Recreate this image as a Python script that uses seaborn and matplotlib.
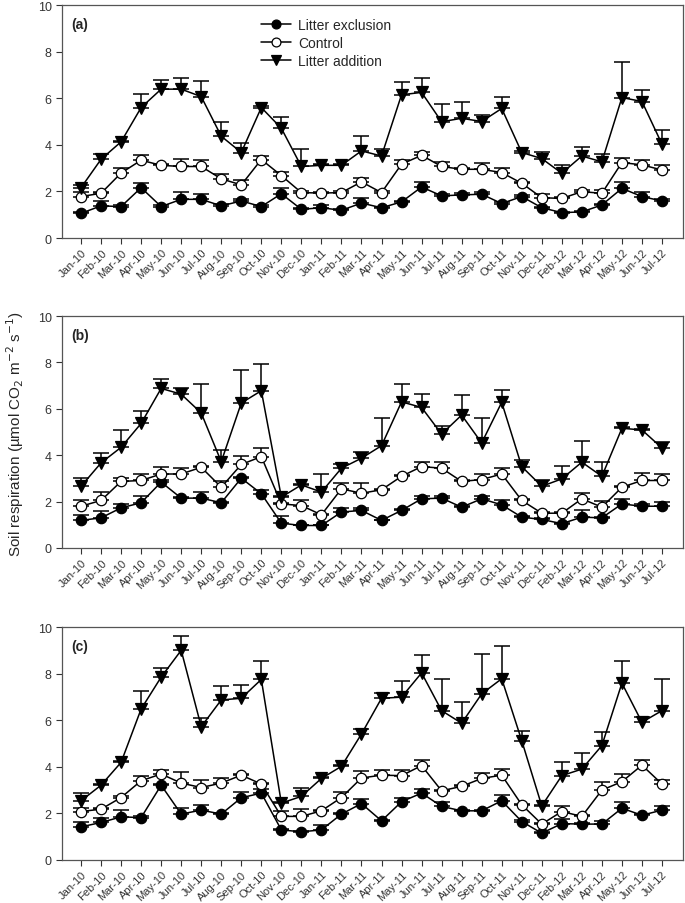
import numpy as np
import pandas as pd
import matplotlib
matplotlib.use("Agg")
import matplotlib.pyplot as plt
import seaborn as sns

# month labels (no Jan-12 sample)
months = ["Jan-10", "Feb-10", "Mar-10", "Apr-10", "May-10", "Jun-10", "Jul-10", "Aug-10",
          "Sep-10", "Oct-10", "Nov-10", "Dec-10", "Jan-11", "Feb-11", "Mar-11", "Apr-11",
          "May-11", "Jun-11", "Jul-11", "Aug-11", "Sep-11", "Oct-11", "Nov-11", "Dec-11",
          "Feb-12", "Mar-12", "Apr-12", "May-12", "Jun-12", "Jul-12"]

panel_labels = ["(a)", "(b)", "(c)"]
treatments = ["Litter exclusion", "Control", "Litter addition"]

# panel (a)
excl_a = [1.06, 1.38, 1.35, 2.16, 1.35, 1.66, 1.66, 1.38, 1.59, 1.35, 1.90, 1.23, 1.30, 1.19, 1.50,
          1.30, 1.55, 2.19, 1.81, 1.85, 1.88, 1.48, 1.78, 1.30, 1.09, 1.12, 1.42, 2.13, 1.78, 1.59]
excl_a_se = [0.05, 0.21, 0.05, 0.22, 0.05, 0.32, 0.24, 0.08, 0.10, 0.05, 0.26, 0.05, 0.10, 0.05, 0.20,
             0.05, 0.05, 0.22, 0.08, 0.08, 0.08, 0.05, 0.08, 0.05, 0.03, 0.03, 0.05, 0.28, 0.20, 0.10]
ctrl_a = [1.78, 1.92, 2.79, 3.34, 3.12, 3.07, 3.07, 2.54, 2.28, 3.37, 2.68, 1.95, 1.93, 1.95, 2.41,
          1.95, 3.17, 3.55, 3.07, 2.95, 2.95, 2.81, 2.35, 1.73, 1.70, 1.99, 1.92, 3.24, 3.14, 2.92]
ctrl_a_se = [0.20, 0.05, 0.23, 0.21, 0.05, 0.34, 0.27, 0.20, 0.22, 0.15, 0.17, 0.05, 0.05, 0.05, 0.18,
             0.05, 0.17, 0.15, 0.20, 0.05, 0.26, 0.18, 0.05, 0.15, 0.05, 0.05, 0.14, 0.21, 0.20, 0.22]
add_a = [2.16, 3.38, 4.13, 5.60, 6.39, 6.39, 6.07, 4.37, 3.67, 5.60, 4.71, 3.07, 3.12, 3.12, 3.74,
         3.52, 6.15, 6.25, 4.99, 5.14, 5.00, 5.56, 3.67, 3.41, 2.78, 3.52, 3.27, 6.03, 5.86, 4.03]
add_a_se = [0.10, 0.22, 0.05, 0.57, 0.39, 0.46, 0.65, 0.62, 0.43, 0.05, 0.50, 0.74, 0.05, 0.05, 0.62,
            0.29, 0.53, 0.60, 0.75, 0.71, 0.30, 0.50, 0.05, 0.29, 0.36, 0.39, 0.33, 1.53, 0.50, 0.60]

# panel (b)
excl_b = [1.19, 1.30, 1.73, 1.95, 2.84, 2.15, 2.15, 1.95, 3.01, 2.34, 1.07, 0.97, 0.97, 1.55, 1.62,
          1.19, 1.62, 2.12, 2.15, 1.76, 2.12, 1.86, 1.33, 1.23, 1.05, 1.33, 1.30, 1.90, 1.80, 1.80]
excl_b_se = [0.24, 0.29, 0.17, 0.31, 0.10, 0.05, 0.26, 0.05, 0.05, 0.18, 0.29, 0.03, 0.03, 0.17, 0.10,
             0.03, 0.05, 0.14, 0.10, 0.05, 0.14, 0.19, 0.05, 0.05, 0.03, 0.29, 0.05, 0.22, 0.08, 0.18]
ctrl_b = [1.80, 2.05, 2.87, 2.91, 3.19, 3.19, 3.48, 2.62, 3.60, 3.94, 1.90, 1.83, 1.43, 2.55, 2.36,
          2.51, 3.09, 3.51, 3.44, 2.87, 2.95, 3.19, 2.05, 1.50, 1.50, 2.12, 1.76, 2.62, 2.91, 2.91]
ctrl_b_se = [0.28, 0.36, 0.14, 0.26, 0.29, 0.25, 0.05, 0.25, 0.38, 0.37, 0.05, 0.22, 0.05, 0.24, 0.43,
             0.05, 0.05, 0.19, 0.26, 0.05, 0.24, 0.26, 0.05, 0.05, 0.05, 0.26, 0.26, 0.05, 0.33, 0.28]
add_b = [2.66, 3.67, 4.34, 5.37, 6.88, 6.63, 5.82, 3.72, 6.25, 6.78, 2.19, 2.72, 2.41, 3.44, 3.87,
         4.41, 6.30, 6.06, 4.91, 5.73, 4.53, 6.28, 3.51, 2.66, 2.98, 3.70, 3.09, 5.16, 5.09, 4.31]
add_b_se = [0.35, 0.43, 0.75, 0.55, 0.40, 0.25, 1.24, 0.52, 1.43, 1.14, 0.05, 0.05, 0.76, 0.18, 0.26,
            1.18, 0.76, 0.60, 0.36, 0.86, 1.06, 0.54, 0.29, 0.28, 0.54, 0.93, 0.61, 0.05, 0.05, 0.27]

# panel (c)
excl_c = [1.42, 1.61, 1.85, 1.82, 3.21, 1.97, 2.14, 1.97, 2.67, 2.87, 1.29, 1.21, 1.29, 1.97, 2.42,
          1.68, 2.50, 2.87, 2.30, 2.11, 2.11, 2.54, 1.65, 1.15, 1.56, 1.54, 1.54, 2.22, 1.92, 2.14]
excl_c_se = [0.22, 0.18, 0.30, 0.05, 0.05, 0.28, 0.23, 0.05, 0.23, 0.17, 0.05, 0.05, 0.20, 0.05, 0.19,
             0.03, 0.18, 0.17, 0.20, 0.05, 0.05, 0.26, 0.05, 0.03, 0.19, 0.05, 0.15, 0.28, 0.05, 0.16]
ctrl_c = [2.08, 2.18, 2.68, 3.40, 3.69, 3.30, 3.11, 3.30, 3.64, 3.26, 1.87, 1.87, 2.11, 2.68, 3.52,
          3.64, 3.62, 4.05, 2.97, 3.16, 3.50, 3.64, 2.37, 1.54, 2.08, 1.87, 3.00, 3.36, 4.07, 3.26]
ctrl_c_se = [0.17, 0.05, 0.05, 0.22, 0.18, 0.49, 0.32, 0.24, 0.05, 0.05, 0.24, 0.31, 0.05, 0.22, 0.31,
             0.22, 0.24, 0.24, 0.05, 0.05, 0.23, 0.26, 0.05, 0.05, 0.22, 0.05, 0.36, 0.33, 0.23, 0.18]
add_c = [2.54, 3.21, 4.19, 6.48, 7.85, 9.00, 5.72, 6.87, 6.94, 7.75, 2.44, 2.73, 3.50, 4.02, 5.41,
         6.94, 6.99, 8.03, 6.41, 5.87, 7.13, 7.78, 5.12, 2.32, 3.62, 3.90, 4.91, 7.59, 5.91, 6.41]
add_c_se = [0.33, 0.05, 0.05, 0.77, 0.39, 0.61, 0.36, 0.59, 0.58, 0.80, 0.05, 0.34, 0.05, 0.05, 0.21,
            0.22, 0.69, 0.75, 1.37, 0.90, 1.69, 1.40, 0.40, 0.05, 0.60, 0.69, 0.57, 0.96, 0.22, 1.37]

panels = [
    [(excl_a, excl_a_se), (ctrl_a, ctrl_a_se), (add_a, add_a_se)],
    [(excl_b, excl_b_se), (ctrl_b, ctrl_b_se), (add_b, add_b_se)],
    [(excl_c, excl_c_se), (ctrl_c, ctrl_c_se), (add_c, add_c_se)],
]

styles = {
    "Litter exclusion": dict(marker="o", markerfacecolor="black", markersize=7.5),
    "Control": dict(marker="o", markerfacecolor="white", markersize=7.5),
    "Litter addition": dict(marker="v", markerfacecolor="black", markersize=8.5),
}

sns.set_theme(style="ticks")
plt.rcParams["font.family"] = ["Liberation Sans", "DejaVu Sans"]

fig = plt.figure(figsize=(6.85, 9.04), dpi=100)
ax_rects = [
    [0.0905, 0.7356, 0.9066, 0.2577],
    [0.0905, 0.3927, 0.9066, 0.2566],
    [0.0905, 0.0476, 0.9066, 0.2577],
]

x = np.arange(len(months))
for p, (rect, series) in enumerate(zip(ax_rects, panels)):
    ax = fig.add_axes(rect)
    handles = []
    for name, (vals, se) in zip(treatments, series):
        df = pd.DataFrame({"month": x, "resp": vals})
        # upper error bars only
        ax.errorbar(x, vals, yerr=[np.zeros(len(se)), se], fmt="none", ecolor="black",
                    elinewidth=1.1, capsize=6, capthick=1.1, zorder=2)
        sns.lineplot(data=df, x="month", y="resp", ax=ax, color="black", linewidth=1.1,
                     markeredgecolor="black", markeredgewidth=0.9, zorder=3,
                     **styles[name])
        handles.append(ax.lines[-1])

    ax.set_xlim(-0.95, 30.05)
    ax.set_ylim(0, 10)
    ax.set_yticks([0, 2, 4, 6, 8, 10])
    ax.set_xticks(x)
    ax.set_xticklabels(months, rotation=45, ha="right", rotation_mode="anchor", fontsize=8)
    ax.tick_params(axis="y", labelsize=9, length=4, width=0.8, colors="#333333")
    ax.tick_params(axis="x", length=4, width=0.8, colors="#333333", pad=2.5)
    ax.set_xlabel("")
    ax.set_ylabel("")
    for s in ax.spines.values():
        s.set_visible(True)
        s.set_color("#555555")
        s.set_linewidth(0.9)
    ax.text(0.015, 0.92, panel_labels[p], transform=ax.transAxes, fontsize=10,
            fontweight="bold", va="center", ha="left")
    if p == 0:
        ax.legend(handles, treatments, loc="upper left", bbox_to_anchor=(0.3, 1.0),
                  frameon=False, fontsize=10, handlelength=2.2, handletextpad=0.5,
                  labelspacing=0.3, markerscale=0.85)
    else:
        leg = ax.get_legend()
        if leg is not None:
            leg.remove()

fig.text(0.022, 0.52, "Soil respiration (\u00b5mol CO$_2$ m$^{-2}$ s$^{-1}$)", rotation=90,
         va="center", ha="center", fontsize=11)

fig.savefig("out.png", dpi=100)
